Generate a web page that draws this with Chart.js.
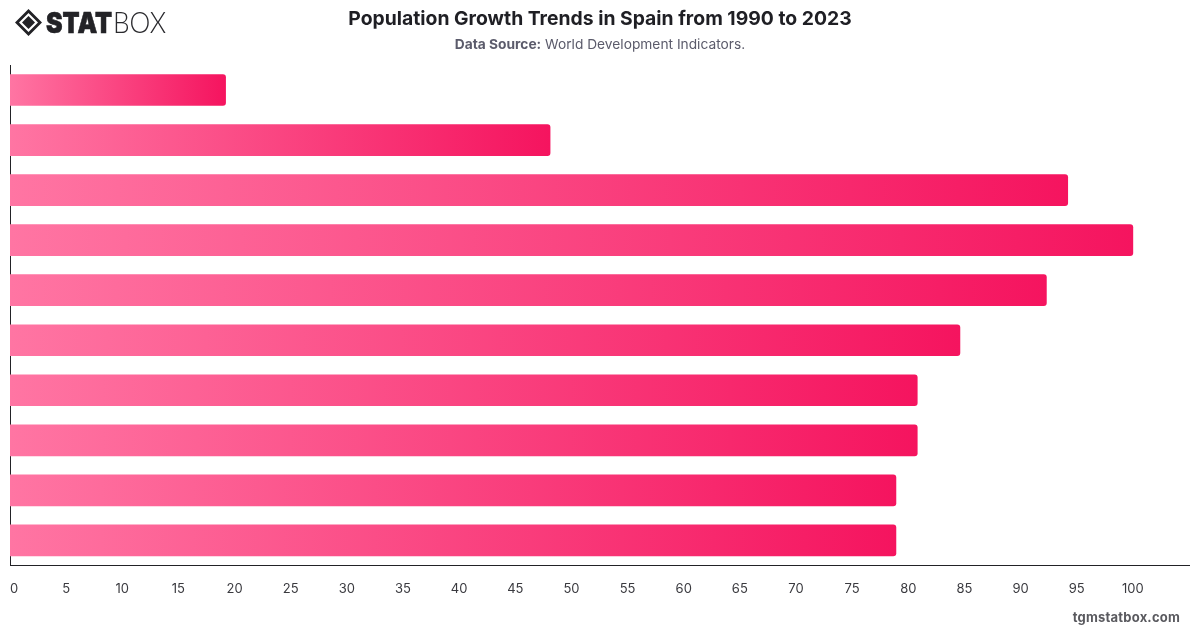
<!DOCTYPE html>
<html>
<head>
<meta charset="utf-8">
<title>Population Growth Trends in Spain from 1990 to 2023</title>
<script src="https://cdn.jsdelivr.net/npm/chart.js@4"></script>
<style>
  html, body { margin: 0; padding: 0; background: #fff; }
  #wrap { position: relative; width: 1200px; height: 628px; overflow: hidden; font-family: Inter, "Noto Sans", sans-serif; }
  #chart { position: absolute; left: 0; top: 0; }
  #logo { position: absolute; left: 14px; top: 8px; }
  #title { position: absolute; left: 0; width: 1200px; top: 5px; text-align: center; font-size: 19.35px; line-height: 26px; font-weight: 700; color: #1f1f24; }
  #subtitle { position: absolute; left: 0; width: 1200px; top: 35px; text-align: center; font-size: 13.75px; line-height: 18px; color: #5b5b6b; }
  #subtitle b { font-weight: 700; }
  #site { position: absolute; right: 20px; top: 608px; font-size: 13px; line-height: 18px; font-weight: 700; color: #5a5a5f; letter-spacing: 0.2px; }
</style>
</head>
<body>
<div id="wrap">
  <canvas id="chart" width="1200" height="628"></canvas>
  <svg id="logo" width="156" height="30" viewBox="0 0 156 30">
    <path d="M14.5 1 L28 14.5 L14.5 28 L1 14.5 Z M14.5 5 L5 14.5 L14.5 24 L24 14.5 Z" fill="#222226" fill-rule="evenodd"/>
    <path d="M14.5 8 L21 14.5 L14.5 21 L8 14.5 Z" fill="#222226"/>
    <text x="32" y="25" font-family="Inter" font-weight="900" font-size="29" fill="#222226" stroke="#222226" stroke-width="0.6" textLength="66" lengthAdjust="spacingAndGlyphs">STAT</text>
    <text x="99" y="25" font-family="Lato" font-weight="300" font-size="30" fill="#2a2a2e" textLength="53" lengthAdjust="spacingAndGlyphs">BOX</text>
  </svg>
  <div id="title">Population Growth Trends in Spain from 1990 to 2023</div>
  <div id="subtitle"><b>Data Source:</b> World Development Indicators.</div>
  <div id="site">tgmstatbox.com</div>
</div>
<script>
const categories = ['A', 'B', 'C', 'D', 'E', 'F', 'G', 'H', 'I', 'J'];
const growthValues = [19.2, 48.1, 94.2, 100, 92.3, 84.6, 80.8, 80.8, 78.9, 78.9];
const tickMax = 105;

// each bar gets its own gradient, running from the axis to the end of the bar
function barGradient(context) {
    const chart = context.chart;
    if (!chart.chartArea) {
        return '#f5145f';
    }
    const xScale = chart.scales.x;
    const value = context.dataset.data[context.dataIndex];
    const gradient = chart.ctx.createLinearGradient(xScale.getPixelForValue(0), 0, xScale.getPixelForValue(value), 0);
    gradient.addColorStop(0, '#ff75a3');
    gradient.addColorStop(1, '#f5145f');
    return gradient;
}

new Chart(document.getElementById('chart'), {
    type: 'bar',
    data: {
        labels: categories,
        datasets: [{
            data: growthValues,
            backgroundColor: barGradient,
            borderRadius: { topLeft: 0, bottomLeft: 0, topRight: 3, bottomRight: 3 },
            borderSkipped: false,
            barThickness: 31
        }]
    },
    options: {
        indexAxis: 'y',
        responsive: false,
        animation: false,
        layout: { padding: { left: 9, right: 11, top: 65, bottom: 21 } },
        plugins: {
            legend: { display: false },
            tooltip: { enabled: false }
        },
        scales: {
            x: {
                min: 0,
                max: tickMax,
                // tick marks stay invisible, their length only pushes the labels down
                grid: { display: false, drawTicks: true, tickLength: 6 },
                border: { display: true, color: '#222226', width: 1 },
                ticks: {
                    stepSize: 5,
                    align: 'inner',
                    maxRotation: 0,
                    autoSkip: false,
                    padding: 10,
                    color: '#3a3a3f',
                    font: { family: 'Inter', size: 13 },
                    callback: (value) => value === tickMax ? '' : value
                }
            },
            y: {
                grid: { display: false, drawTicks: false },
                border: { display: true, color: '#222226', width: 1 },
                ticks: { display: false }
            }
        }
    }
});
</script>
</body>
</html>
